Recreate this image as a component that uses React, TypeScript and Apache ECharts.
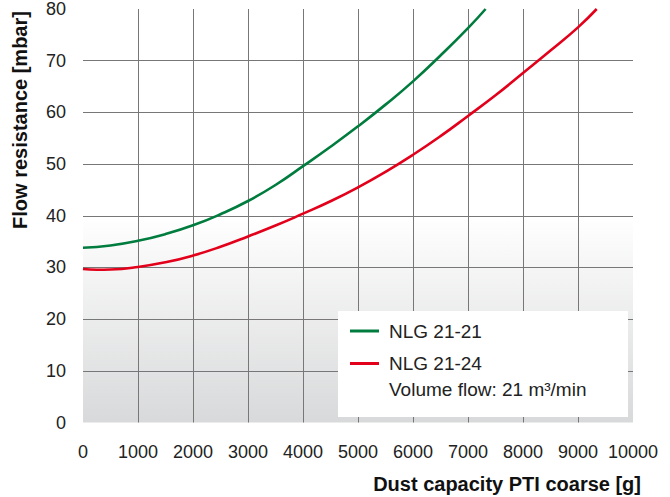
import React, { useEffect, useRef } from "react";
import * as echarts from "echarts";

const xTicks = [0, 1000, 2000, 3000, 4000, 5000, 6000, 7000, 8000, 9000, 10000];
const yTicks = [0, 10, 20, 30, 40, 50, 60, 70, 80];

const greenName = "NLG 21-21";
const greenX = [0, 500, 1000, 1500, 2000, 2500, 3000, 3500, 4000, 4500, 5000, 5500, 6000, 6500, 7000, 7320];
const greenY = [33.8, 34.25, 35.15, 36.45, 38.15, 40.3, 42.85, 45.95, 49.6, 53.35, 57.3, 61.5, 66.0, 71.0, 76.3, 80];

const redName = "NLG 21-24";
const redX = [0, 250, 500, 1000, 1500, 2000, 2500, 3000, 3500, 4000, 4500, 5000, 5500, 6000, 6500, 7000, 7500, 8000, 8500, 9000, 9340];
const redY = [29.7, 29.55, 29.6, 30.1, 31.0, 32.3, 34.0, 36.0, 38.1, 40.4, 42.8, 45.5, 48.5, 51.8, 55.4, 59.3, 63.3, 67.6, 71.95, 76.45, 80];

const legendNote = "Volume flow: 21 m³/min";
const xTitle = "Dust capacity PTI coarse [g]";
const yTitle = "Flow resistance [mbar]";

const FONT = "'Liberation Sans', Arial, Helvetica, sans-serif";

export default function App() {
  const ref = useRef<HTMLDivElement>(null);
  useEffect(() => {
    document.body.style.margin = "0";
    if (!ref.current) return;
    const chart = echarts.init(ref.current, null, { renderer: "svg" });
    const pairs = (xs: number[], ys: number[]) => xs.map((x, i) => [x, ys[i]]);
    chart.setOption({
      animation: false,
      textStyle: { fontFamily: FONT },
      grid: {
        left: 83,
        right: 37,
        top: 7.5,
        bottom: 74.5,
        show: true,
        borderWidth: 0,
        backgroundColor: new echarts.graphic.LinearGradient(0, 0, 0, 1, [
          { offset: 0, color: "#ffffff" },
          { offset: 0.5, color: "#ffffff" },
          { offset: 1, color: "#d8d9da" },
        ]),
      },
      xAxis: {
        type: "value",
        min: xTicks[0],
        max: xTicks[xTicks.length - 1],
        interval: 1000,
        axisLine: { show: false },
        axisTick: { show: false },
        axisLabel: {
          color: "#222",
          fontSize: 18,
          margin: 20,
          fontFamily: FONT,
          formatter: (v: number) => String(v),
        },
        splitLine: { show: true, showMinLine: false, showMaxLine: false, lineStyle: { color: "#777777", width: 1 } },
      },
      yAxis: {
        type: "value",
        min: yTicks[0],
        max: yTicks[yTicks.length - 1],
        interval: 10,
        axisLine: { show: false },
        axisTick: { show: false },
        axisLabel: {
          color: "#222",
          fontSize: 18,
          margin: 17,
          fontFamily: FONT,
          padding: [9, 0, 0, 0],
          formatter: (v: number) => String(v),
        },
        splitLine: { show: true, showMinLine: false, showMaxLine: false, lineStyle: { color: "#777777", width: 1 } },
      },
      legend: {
        orient: "vertical",
        left: 345,
        top: 312,
        padding: 5,
        itemWidth: 29,
        itemHeight: 3,
        itemGap: 4.5,
        icon: "rect",
        textStyle: { fontSize: 19, color: "#222", fontFamily: FONT, padding: [0, 0, 8, 5], lineHeight: 20 },
        data: [greenName, redName],
        z: 10,
      },
      graphic: [
        {
          type: "rect",
          left: 338,
          top: 311,
          shape: { width: 290, height: 106 },
          style: { fill: "#ffffff" },
          z: 5,
        },
        {
          type: "text",
          left: 389,
          top: 380,
          style: { text: legendNote, fontSize: 19, fill: "#222", fontFamily: FONT },
          z: 11,
        },
        {
          type: "text",
          right: 29,
          top: 474,
          style: { text: xTitle, fontSize: 20, fontWeight: "bold", fill: "#111", fontFamily: FONT },
        },
        {
          type: "text",
          x: 20,
          y: 120,
          rotation: Math.PI / 2,
          style: {
            text: yTitle,
            fontSize: 20,
            fontWeight: "bold",
            fill: "#111",
            fontFamily: FONT,
            align: "center",
            verticalAlign: "middle",
          },
        },
      ],
      series: [
        {
          name: greenName,
          type: "line",
          data: pairs(greenX, greenY),
          smooth: 0.5,
          showSymbol: false,
          symbol: "none",
          lineStyle: { color: "#007c3e", width: 2.6 },
          itemStyle: { color: "#007c3e" },
          z: 3,
        },
        {
          name: redName,
          type: "line",
          data: pairs(redX, redY),
          smooth: 0.5,
          showSymbol: false,
          symbol: "none",
          lineStyle: { color: "#e3001b", width: 2.6 },
          itemStyle: { color: "#e3001b" },
          z: 3,
        },
      ],
    });
    return () => chart.dispose();
  }, []);
  return <div ref={ref} style={{ width: 670, height: 497 }} />;
}
